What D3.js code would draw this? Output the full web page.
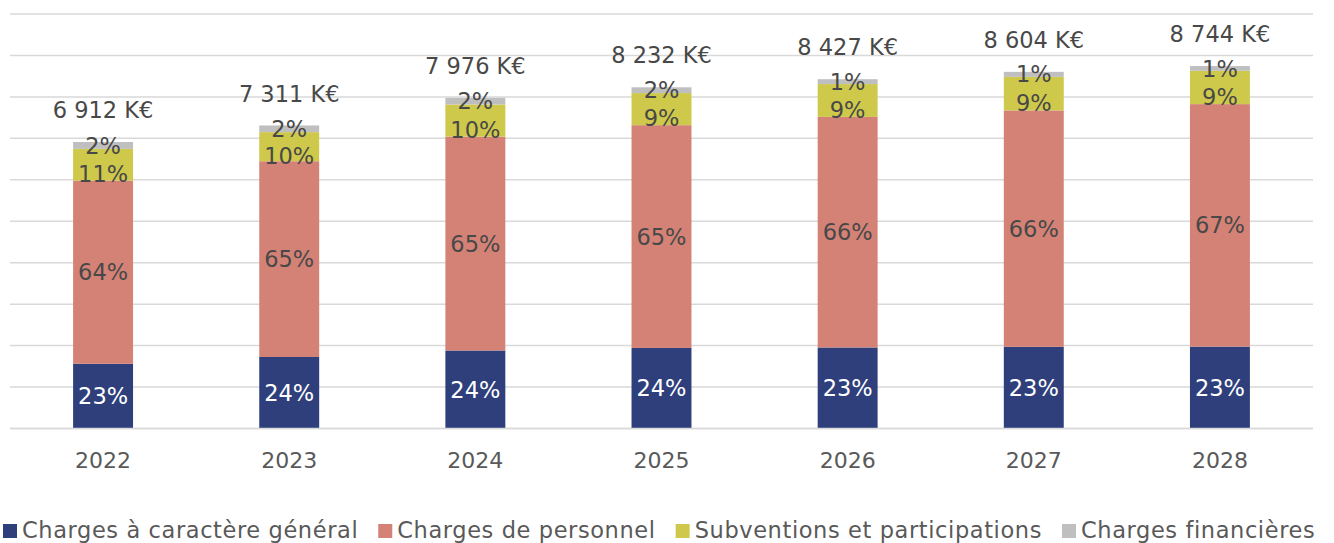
<!DOCTYPE html>
<html>
<head>
<meta charset="utf-8">
<script src="https://cdn.jsdelivr.net/npm/d3@7/dist/d3.min.js"></script>
<style>
  html, body { margin: 0; padding: 0; background: #ffffff; }
  svg { display: block; }
  text { font-family: "DejaVu Sans", "Open Sans", sans-serif; }
</style>
</head>
<body>
<svg id="chart" width="1334" height="543"></svg>
<script>
// Budget de fonctionnement par nature (K€)
const years = ["2022", "2023", "2024", "2025", "2026", "2027", "2028"];
const chargesGenerales   = [1562, 1725, 1882, 1943, 1955, 1970, 1976];
const chargesPersonnel   = [4417, 4723, 5160, 5375, 5562, 5704, 5850];
const subventions        = [767, 702, 774, 774, 792, 809, 804];
const chargesFinancieres = [166, 161, 160, 140, 118, 121, 114];

const seriesNames = [
  "Charges à caractère général",
  "Charges de personnel",
  "Subventions et participations",
  "Charges financières"
];
const seriesColors = ["#2e3f7c", "#d48276", "#cfc94b", "#bfbfbf"];
const labelColors  = ["#ffffff", "#484848", "#484848", "#484848"];
const yTicks = [0, 1000, 2000, 3000, 4000, 5000, 6000, 7000, 8000, 9000, 10000];

const seriesValues = [chargesGenerales, chargesPersonnel, subventions, chargesFinancieres];
const keys = ["s0", "s1", "s2", "s3"];
const rows = years.map((yr, i) => {
  const r = { year: yr };
  keys.forEach((k, j) => { r[k] = seriesValues[j][i]; });
  r.total = d3.sum(keys, k => r[k]);
  return r;
});

const svg = d3.select("#chart");
const plotLeft = 10, plotRight = 1313, plotTop = 14, plotBottom = 428.5;
const fontSize = 22.5;

const x = d3.scaleBand()
  .domain(years)
  .range([plotLeft, plotRight])
  .paddingInner(0.678)
  .paddingOuter(0.339);

const y = d3.scaleLinear()
  .domain([0, 10000])
  .range([plotBottom, plotTop]);

// Horizontal gridlines
svg.append("g")
  .selectAll("line")
  .data(yTicks)
  .join("line")
  .attr("x1", plotLeft).attr("x2", plotRight)
  .attr("y1", d => y(d)).attr("y2", d => y(d))
  .attr("stroke", "#d9d9d9")
  .attr("stroke-width", 1.5);

// Stacked bars
const stacked = d3.stack().keys(keys)(rows);

const layers = svg.append("g")
  .selectAll("g")
  .data(stacked)
  .join("g")
  .attr("fill", (d, i) => seriesColors[i]);

layers.selectAll("rect")
  .data(d => d)
  .join("rect")
  .attr("x", d => x(d.data.year))
  .attr("width", x.bandwidth())
  .attr("y", d => y(d[1]))
  .attr("height", d => y(d[0]) - y(d[1]));

// Baseline
svg.append("line")
  .attr("x1", plotLeft).attr("x2", plotRight)
  .attr("y1", y(0)).attr("y2", y(0))
  .attr("stroke", "#d9d9d9")
  .attr("stroke-width", 1.5);

// Share labels inside each segment
const labelShift = [0, 0, 9, 0];
stacked.forEach((layer, i) => {
  svg.append("g")
    .selectAll("text")
    .data(layer)
    .join("text")
    .attr("x", d => x(d.data.year) + x.bandwidth() / 2)
    .attr("y", d => (y(d[0]) + y(d[1])) / 2 + labelShift[i])
    .attr("dy", "0.36em")
    .attr("text-anchor", "middle")
    .attr("font-size", fontSize)
    .attr("fill", labelColors[i])
    .text(d => Math.round((d[1] - d[0]) / d.data.total * 100) + "%");
});

// Totals above the bars
const frFormat = d3.formatLocale({ decimal: ",", thousands: " ", grouping: [3], currency: ["", " €"] }).format(",");
svg.append("g")
  .selectAll("text")
  .data(rows)
  .join("text")
  .attr("x", d => x(d.year) + x.bandwidth() / 2)
  .attr("y", d => y(d.total) - 32)
  .attr("dy", "0.36em")
  .attr("text-anchor", "middle")
  .attr("font-size", fontSize)
  .attr("fill", "#484848")
  .text(d => frFormat(d.total) + " K€");

// Category axis
const xAxis = svg.append("g")
  .attr("transform", `translate(0,${plotBottom})`)
  .call(d3.axisBottom(x).tickSize(0).tickPadding(24));
xAxis.select(".domain").remove();
xAxis.selectAll("text")
  .attr("font-size", 22)
  .attr("fill", "#595959")
  .style("font-family", "\"DejaVu Sans\", sans-serif");

// Legend
const legend = svg.append("g").attr("transform", "translate(0,524)");
let lx = 3;
seriesNames.forEach((name, i) => {
  const g = legend.append("g").attr("transform", `translate(${lx},0)`);
  g.append("rect").attr("width", 14).attr("height", 14).attr("fill", seriesColors[i]);
  const t = g.append("text")
    .attr("x", 19)
    .attr("y", 14)
    .attr("font-size", fontSize)
    .attr("letter-spacing", 0.6)
    .attr("fill", "#595959")
    .text(name);
  lx += 19 + t.node().getComputedTextLength() + 20;
});
</script>
</body>
</html>
